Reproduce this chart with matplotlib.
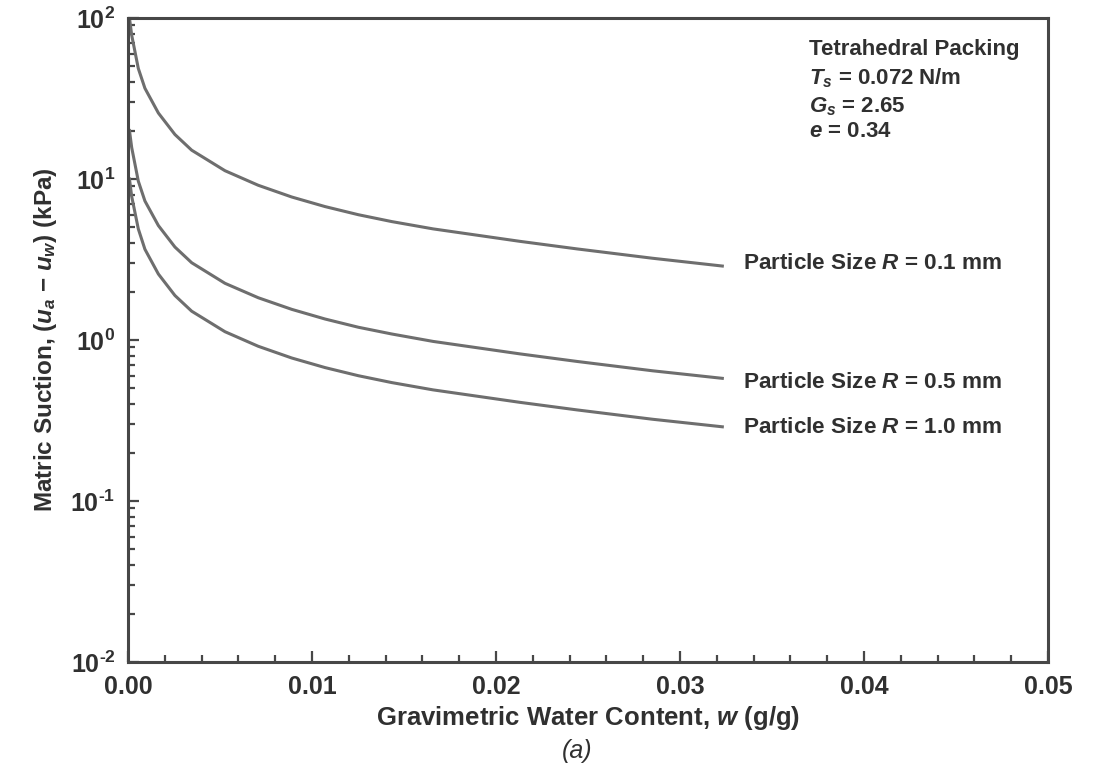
import math
import matplotlib
matplotlib.use("Agg")
import matplotlib.pyplot as plt
from matplotlib.ticker import FixedLocator, LogLocator, NullFormatter, FuncFormatter

plt.rcParams['font.family'] = ['Liberation Sans', 'DejaVu Sans']
plt.rcParams['font.weight'] = 'bold'
plt.rcParams['mathtext.fontset'] = 'custom'
plt.rcParams['mathtext.rm'] = 'Liberation Sans:bold'
plt.rcParams['mathtext.bf'] = 'Liberation Sans:bold'
plt.rcParams['mathtext.it'] = 'Liberation Sans:italic:bold'

# ---- data ----
w_r01 = [0.00008, 0.00020, 0.00056, 0.00092, 0.00165, 0.00255, 0.00346, 0.00527,
         0.00708, 0.00890, 0.01071, 0.01252, 0.01433, 0.01658, 0.0213, 0.0244,
         0.0285, 0.0323]
s_r01 = [100, 78.3, 48.6, 36.6, 25.7, 18.9, 15.1, 11.26,
         9.14, 7.73, 6.74, 6.00, 5.44, 4.90, 4.10, 3.68,
         3.22, 2.88]

w_r05 = [0.00008, 0.00020, 0.00056, 0.00092, 0.00165, 0.00255, 0.00346, 0.00527,
         0.00708, 0.00890, 0.01071, 0.01252, 0.01433, 0.01658, 0.0213, 0.0244,
         0.0285, 0.0323]
s_r05 = [20, 15.7, 9.7, 7.3, 5.14, 3.78, 3.02, 2.25,
         1.83, 1.55, 1.35, 1.20, 1.09, 0.98, 0.82, 0.736,
         0.644, 0.578]

w_r10 = [0.00008, 0.00020, 0.00056, 0.00092, 0.00165, 0.00255, 0.00346, 0.00527,
         0.00708, 0.00890, 0.01071, 0.01252, 0.01433, 0.01658, 0.0213, 0.0244,
         0.0285, 0.0323]
s_r10 = [10, 7.8, 4.9, 3.66, 2.57, 1.89, 1.51, 1.126,
         0.914, 0.773, 0.674, 0.600, 0.544, 0.490, 0.410, 0.368,
         0.322, 0.289]

curve_labels = [r'Particle Size $R$ = 0.1 mm',
                r'Particle Size $R$ = 0.5 mm',
                r'Particle Size $R$ = 1.0 mm']
label_y = [3.0, 0.546, 0.286]
label_x = 0.0334

info_lines = ['Tetrahedral Packing', r'$T_s$ = 0.072 N/m', r'$G_s$ = 2.65', r'$e$ = 0.34']

x_major = [0.00, 0.01, 0.02, 0.03, 0.04, 0.05]
x_minor = [0.002, 0.004, 0.006, 0.008, 0.012, 0.014, 0.016, 0.018,
           0.022, 0.024, 0.026, 0.028, 0.032, 0.034, 0.036, 0.038,
           0.042, 0.044, 0.046, 0.048]
y_major = [1e-2, 1e-1, 1e0, 1e1, 1e2]

# ---- styling ----
text_c = '#303030'
line_c = '#6e6e6e'
spine_c = '#474747'

fig = plt.figure(figsize=(10.94, 7.67), dpi=100)
ax = fig.add_axes([128/1094, 1 - 662/767, 920/1094, 644/767])

for w, s in [(w_r01, s_r01), (w_r05, s_r05), (w_r10, s_r10)]:
    ax.plot(w, s, color=line_c, lw=2.2, solid_joinstyle='round')

ax.set_yscale('log')
ax.set_xlim(0, 0.05)
ax.set_ylim(1e-2, 1e2)


def ylab(v, p):
    e = int(round(math.log10(v)))
    if e < 0:
        return r'$10^{\text{-}%d}$' % (-e)
    return r'$10^{%d}$' % e


ax.xaxis.set_major_locator(FixedLocator(x_major))
ax.xaxis.set_minor_locator(FixedLocator(x_minor))
ax.xaxis.set_major_formatter(FuncFormatter(lambda v, p: f'{v:.2f}'))
ax.yaxis.set_major_locator(FixedLocator(y_major))
ax.yaxis.set_minor_locator(LogLocator(base=10, subs=range(2, 10)))
ax.yaxis.set_minor_formatter(NullFormatter())
ax.yaxis.set_major_formatter(FuncFormatter(ylab))

ax.tick_params(which='both', direction='in', colors=spine_c, labelcolor=text_c,
               top=False, right=False, width=1.6)
ax.tick_params(which='major', length=8)
ax.tick_params(which='minor', length=5)
ax.tick_params(axis='x', which='major', labelsize=18, pad=9)
ax.tick_params(axis='y', which='major', labelsize=18, pad=9)

for sp in ax.spines.values():
    sp.set_color(spine_c)
    sp.set_linewidth(2.2)

ax.set_xlabel(r'Gravimetric Water Content, $w$ (g/g)', fontsize=18.5,
              color=text_c, fontweight='bold', labelpad=4)
ax.set_ylabel(r'Matric Suction, $(u_a$ $-$ $u_w)$ (kPa)', fontsize=17.5,
              color=text_c, fontweight='bold', labelpad=8)

for t, y in zip(curve_labels, label_y):
    ax.text(label_x, y, t, fontsize=16.2, color=text_c, fontweight='bold',
            va='center', ha='left')

info_y = [0.951, 0.906, 0.862, 0.823]
for t, y in zip(info_lines, info_y):
    ax.text(0.740, y, t, transform=ax.transAxes, fontsize=16, color=text_c,
            fontweight='bold', va='center', ha='left')

fig.text(577/1094, 1 - 751/767, '(a)', fontsize=18, fontweight='normal',
         fontstyle='italic', color=text_c, ha='center', va='center')

fig.savefig('out.png', dpi=100)
